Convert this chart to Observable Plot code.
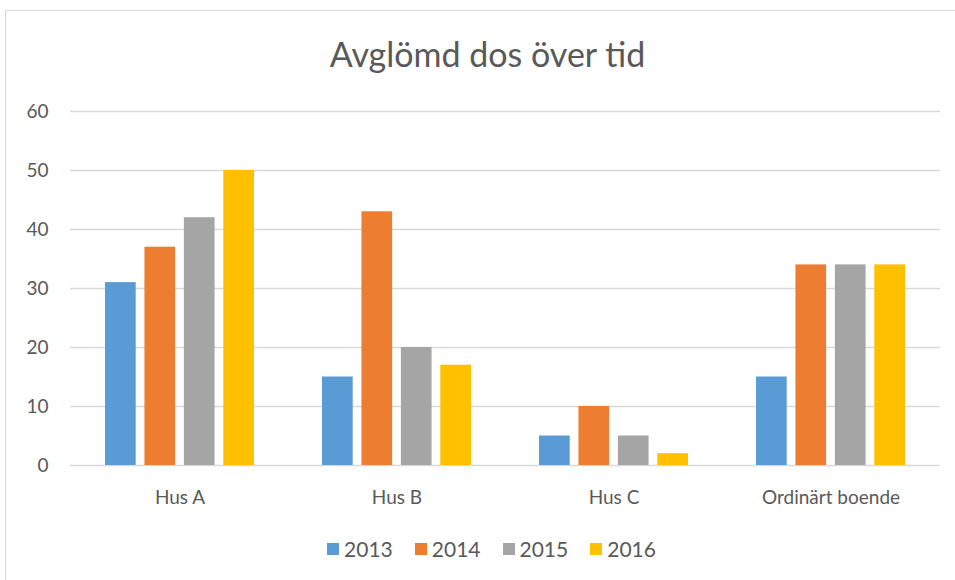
<!DOCTYPE html>
<html><head><meta charset="utf-8">
<script src="https://cdn.jsdelivr.net/npm/d3@7"></script>
<script src="https://cdn.jsdelivr.net/npm/@observablehq/plot@0.6"></script>
<style>
body{margin:0;background:#fff;font-family:Lato,"Open Sans",sans-serif;}
#wrap{position:relative;width:955px;height:580px;overflow:hidden;background:#fff;}
#frame{position:absolute;left:5px;top:10px;width:1000px;height:1000px;border:1.5px solid #d9d9d9;box-sizing:border-box;}
#title{position:absolute;left:10px;width:955px;top:33px;text-align:center;font-size:34px;color:#595959;line-height:42px;}
#chart{position:absolute;left:0;top:0;}
#legend{position:absolute;left:14px;width:955px;top:536px;display:flex;justify-content:center;gap:22px;font-size:21px;color:#595959;line-height:26px;}
#legend .it{display:flex;align-items:center;gap:5px;}
#legend .sw{width:12px;height:12px;display:inline-block;}
</style></head>
<body>
<div id="wrap">
  <div id="frame"></div>
  <div id="chart"></div>
  <div id="title">Avglömd dos över tid</div>
  <div id="legend"></div>
</div>
<script>
const categories = ["Hus A", "Hus B", "Hus C", "Ordinärt boende"];
const years = ["2013", "2014", "2015", "2016"];
const v2013 = [31, 15, 5, 15];
const v2014 = [37, 43, 10, 34];
const v2015 = [42, 20, 5, 34];
const v2016 = [50, 17, 2, 34];
const series = [v2013, v2014, v2015, v2016];
const colors = ["#5b9bd5", "#ed7d31", "#a5a5a5", "#ffc000"];
const yTicks = [0, 10, 20, 30, 40, 50, 60];

const W = 955, H = 580;
const mL = 70, mR = 15, mT = 111, mB = 115;
const padIn = 0.3136, padOut = 0.1568;
const band = d3.scaleBand().domain(categories).range([mL, W - mR]).paddingInner(padIn).paddingOuter(padOut);
const bw = band.bandwidth();
const barW = 31;
const barStep = (bw - barW) / 3;

const marks = [
  Plot.ruleY(yTicks, {stroke: "#d9d9d9", strokeWidth: 1.4})
];
years.forEach((yr, i) => {
  const data = categories.map((c, j) => ({category: c, value: series[i][j]}));
  marks.push(Plot.barY(data, {
    x: "category", y: "value", fill: colors[i],
    insetLeft: i * barStep,
    insetRight: bw - i * barStep - barW
  }));
});
marks.push(Plot.axisY({ticks: yTicks, tickSize: 0, tickPadding: 22, fill: "#595959"}));
marks.push(Plot.axisX({tickSize: 0, tickPadding: 25, fill: "#595959"}));

const plot = Plot.plot({
  width: W, height: H,
  marginLeft: mL, marginRight: mR, marginTop: mT, marginBottom: mB,
  style: {fontFamily: "Lato, 'Open Sans', sans-serif", fontSize: "19px", background: "transparent", color: "#595959"},
  x: {type: "band", domain: categories, paddingInner: padIn, paddingOuter: padOut, label: null},
  y: {domain: [0, 60], label: null},
  marks
});
document.getElementById("chart").appendChild(plot);

const lg = document.getElementById("legend");
years.forEach((yr, i) => {
  const it = document.createElement("span");
  it.className = "it";
  const sw = document.createElement("span");
  sw.className = "sw";
  sw.style.background = colors[i];
  const t = document.createElement("span");
  t.textContent = yr;
  it.appendChild(sw); it.appendChild(t);
  lg.appendChild(it);
});
</script>
</body></html>
